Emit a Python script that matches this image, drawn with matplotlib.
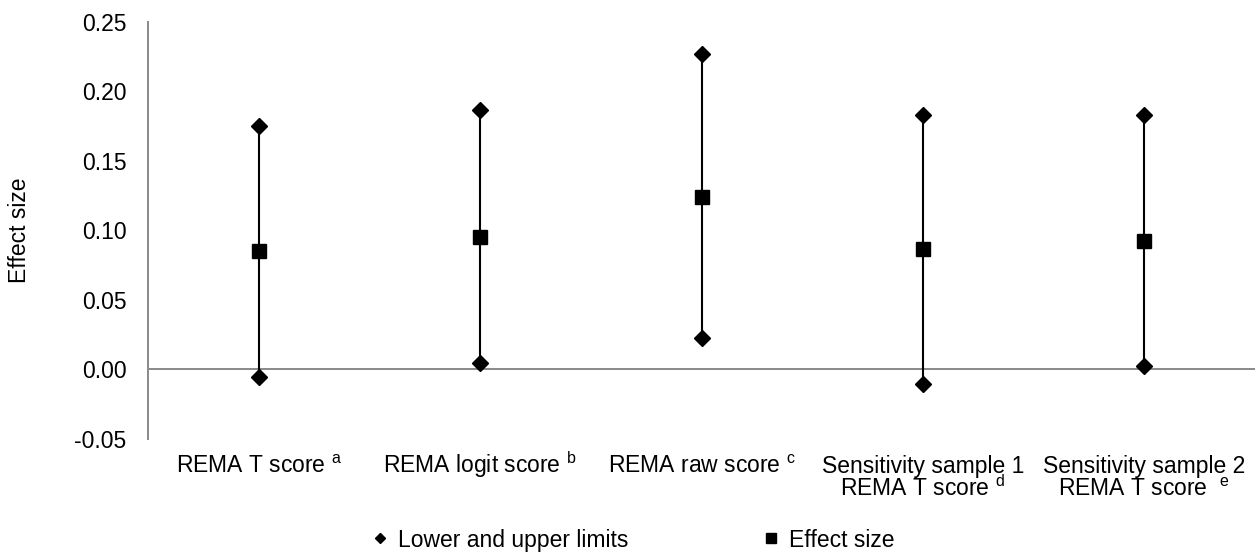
import matplotlib
matplotlib.use("Agg")
import matplotlib.pyplot as plt
from matplotlib.lines import Line2D
import numpy as np

plt.rcParams['font.family'] = ['Liberation Sans', 'DejaVu Sans']
plt.rcParams['mathtext.default'] = 'regular'

# data
label_line1 = [
    r'REMA T score $^{a}$',
    r'REMA logit score $^{b}$',
    r'REMA raw score $^{c}$',
    'Sensitivity sample 1',
    'Sensitivity sample 2',
]
label_line2 = ['', '', '', r'REMA T score $^{d}$', r'REMA T score  $^{e}$']
lower = [-0.0055, 0.004, 0.022, -0.0108, 0.0022]
upper = [0.175, 0.1866, 0.2268, 0.183, 0.183]
effect = [0.085, 0.095, 0.124, 0.0865, 0.0925]

axis_gray = '#898989'
fs = 16.5

fig = plt.figure(figsize=(12.6, 5.55), dpi=100)
ax = fig.add_axes([148 / 1260, 1 - 438.5 / 555, 1107 / 1260, 416.8 / 555])

x = np.arange(len(label_line1))

# vertical interval lines
ax.vlines(x, lower, upper, colors='black', linewidth=1.5, zorder=3)
ax.plot(x, lower, 'D', ms=8.3, color='black', zorder=4, linestyle='none')
ax.plot(x, upper, 'D', ms=8.3, color='black', zorder=4, linestyle='none')
ax.plot(x, effect, 's', ms=10.3, color='black', zorder=5, linestyle='none')

# horizontal axis line at zero
ax.axhline(0, color=axis_gray, linewidth=1.4, zorder=1)

ax.set_xlim(-0.5, len(label_line1) - 0.5)
ax.set_ylim(-0.05, 0.25)
ax.set_yticks(np.arange(-0.05, 0.2501, 0.05))
ax.set_yticklabels([f'{v:.2f}' for v in np.arange(-0.05, 0.2501, 0.05)])
ax.set_xticks(x)
ax.set_xticklabels([])

# category labels, two lines each where needed
trans = ax.get_xaxis_transform()
for xi, l1, l2 in zip(x, label_line1, label_line2):
    ax.text(xi, -34.5 / 416.8, l1, transform=trans, ha='center',
            va='baseline', fontsize=fs, clip_on=False)
    if l2:
        ax.text(xi, -58 / 416.8, l2, transform=trans, ha='center',
                va='baseline', fontsize=fs, clip_on=False)

ax.tick_params(axis='y', length=0, pad=15.5, labelsize=fs)
ax.tick_params(axis='x', length=0)

for side in ['top', 'right', 'bottom']:
    ax.spines[side].set_visible(False)
ax.spines['left'].set_color(axis_gray)
ax.spines['left'].set_linewidth(1.4)

fig.text(20 / 1260, 1 - 230 / 555, 'Effect size', rotation=90,
         ha='center', va='center', fontsize=fs)

handles = [
    Line2D([], [], marker='D', ms=5, color='black', linestyle='none'),
    Line2D([], [], marker='s', ms=7, color='black', linestyle='none'),
]
fig.legend(handles, ['Lower and upper limits', 'Effect size'],
           loc='center left', bbox_to_anchor=(373 / 1260, 0.027),
           ncol=2, frameon=False, fontsize=fs, borderpad=0,
           borderaxespad=0, handlelength=0.6, handletextpad=0.5,
           columnspacing=5.9)

fig.savefig('out.png', dpi=100)
